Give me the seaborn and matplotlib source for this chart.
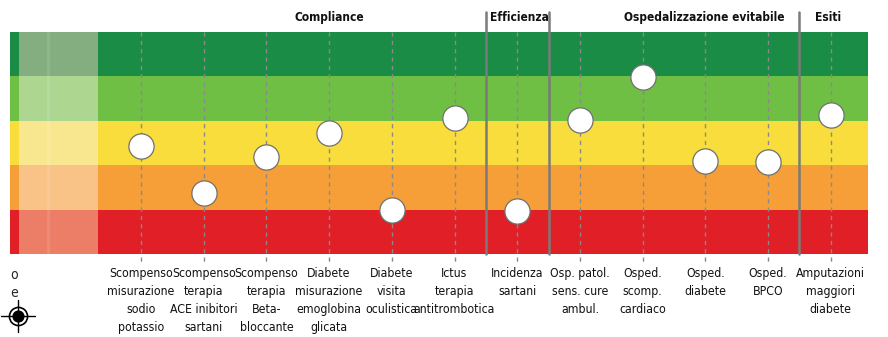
import numpy as np
import pandas as pd
import matplotlib.pyplot as plt
import seaborn as sns

# indicators (x categories) and their scores on a 0-5 band scale
labels = [
    "Scompenso\nmisurazione\nsodio\npotassio",
    "Scompenso\nterapia\nACE inibitori\nsartani",
    "Scompenso\nterapia\nBeta-\nbloccante",
    "Diabete\nmisurazione\nemoglobina\nglicata",
    "Diabete\nvisita\noculistica",
    "Ictus\nterapia\nantitrombotica",
    "Incidenza\nsartani",
    "Osp. patol.\nsens. cure\nambul.",
    "Osped.\nscomp.\ncardiaco",
    "Osped.\ndiabete",
    "Osped.\nBPCO",
    "Amputazioni\nmaggiori\ndiabete",
]
scores = [2.43, 1.37, 2.18, 2.72, 0.99, 3.06, 0.97, 3.02, 3.99, 2.09, 2.07, 3.13]

sections = ["Compliance", "Efficienza", "Ospedalizzazione evitabile", "Esiti"]
section_breaks = [5.5, 6.5, 10.5]

band_colors = ["#e01f26", "#f69f38", "#f8dd3c", "#70bf45", "#1b8c45"]
faded_colors = ["#ec7d66", "#f9c287", "#f9e78f", "#add690", "#84ae80"]

df = pd.DataFrame({"idx": np.arange(len(labels)), "score": scores})

sns.set_style("white")
plt.rcParams["font.family"] = ["DejaVu Sans"]
plt.rcParams["font.stretch"] = "condensed"

fig = plt.figure(figsize=(8.88, 3.37), dpi=100)
ax = fig.add_axes([10 / 888, 1 - 254 / 337, 858 / 888, 222 / 337])

step = 62.7
ax.set_xlim(-131 / step, 727 / step)
ax.set_ylim(0, 5)

# coloured bands
for i, c in enumerate(band_colors):
    ax.axhspan(i, i + 1, color=c, lw=0, zorder=0)
    ax.axhspan(i, i + 1, xmin=9 / 858, xmax=88 / 858, color=faded_colors[i], lw=0, zorder=1)
ax.axvline(-1.48, color="white", alpha=0.12, lw=2, zorder=1)

# dashed guide lines per indicator
for i in range(len(labels)):
    ax.plot([i, i], [5, -0.2], ls=(0, (3, 3)), color="#8a8a8a", lw=1, zorder=2, clip_on=False)

# section separators
for b in section_breaks:
    ax.plot([b, b], [0, 5.45], color="#7a7a7a", lw=1.8, zorder=3, clip_on=False)

sns.scatterplot(data=df, x="idx", y="score", s=330, color="white",
                edgecolor="#707070", linewidth=0.9, zorder=4, clip_on=False, ax=ax)

# section titles
ty = 5.33
tkw = dict(va="center", fontsize=8.6, fontweight="bold", color="#111111")
ax.text(3.0, ty, sections[0], ha="center", **tkw)
ax.text(5.56, ty, sections[1], ha="left", **tkw)
ax.text(8.98, ty, sections[2], ha="center", **tkw)
ax.text(10.95, ty, sections[3], ha="center", **tkw)

# indicator labels
for i, lab in enumerate(labels):
    ax.text(i, -0.3, lab, ha="center", va="top", fontsize=8.8, linespacing=1.48,
            color="#111111")

# cropped legend remnants at lower left
fig.text(10 / 888, 1 - 275 / 337, "o", ha="left", va="center", fontsize=10)
fig.text(10 / 888, 1 - 293 / 337, "e", ha="left", va="center", fontsize=10)
ix, iy = -123 / step, -62 / 44.4
ax.scatter([ix], [iy], s=170, facecolor="white", edgecolor="black", lw=1.2, clip_on=False, zorder=5)
ax.scatter([ix], [iy], s=60, color="black", clip_on=False, zorder=6)
ax.plot([ix - 0.27, ix + 0.27], [iy, iy], color="black", lw=1, clip_on=False, zorder=7)
ax.plot([ix, ix], [iy - 0.35, iy + 0.35], color="black", lw=1, clip_on=False, zorder=7)

ax.set_xlabel("")
ax.set_ylabel("")
ax.set_xticks([])
ax.set_yticks([])
sns.despine(ax=ax, left=True, bottom=True)

fig.savefig("out.png", dpi=100)
